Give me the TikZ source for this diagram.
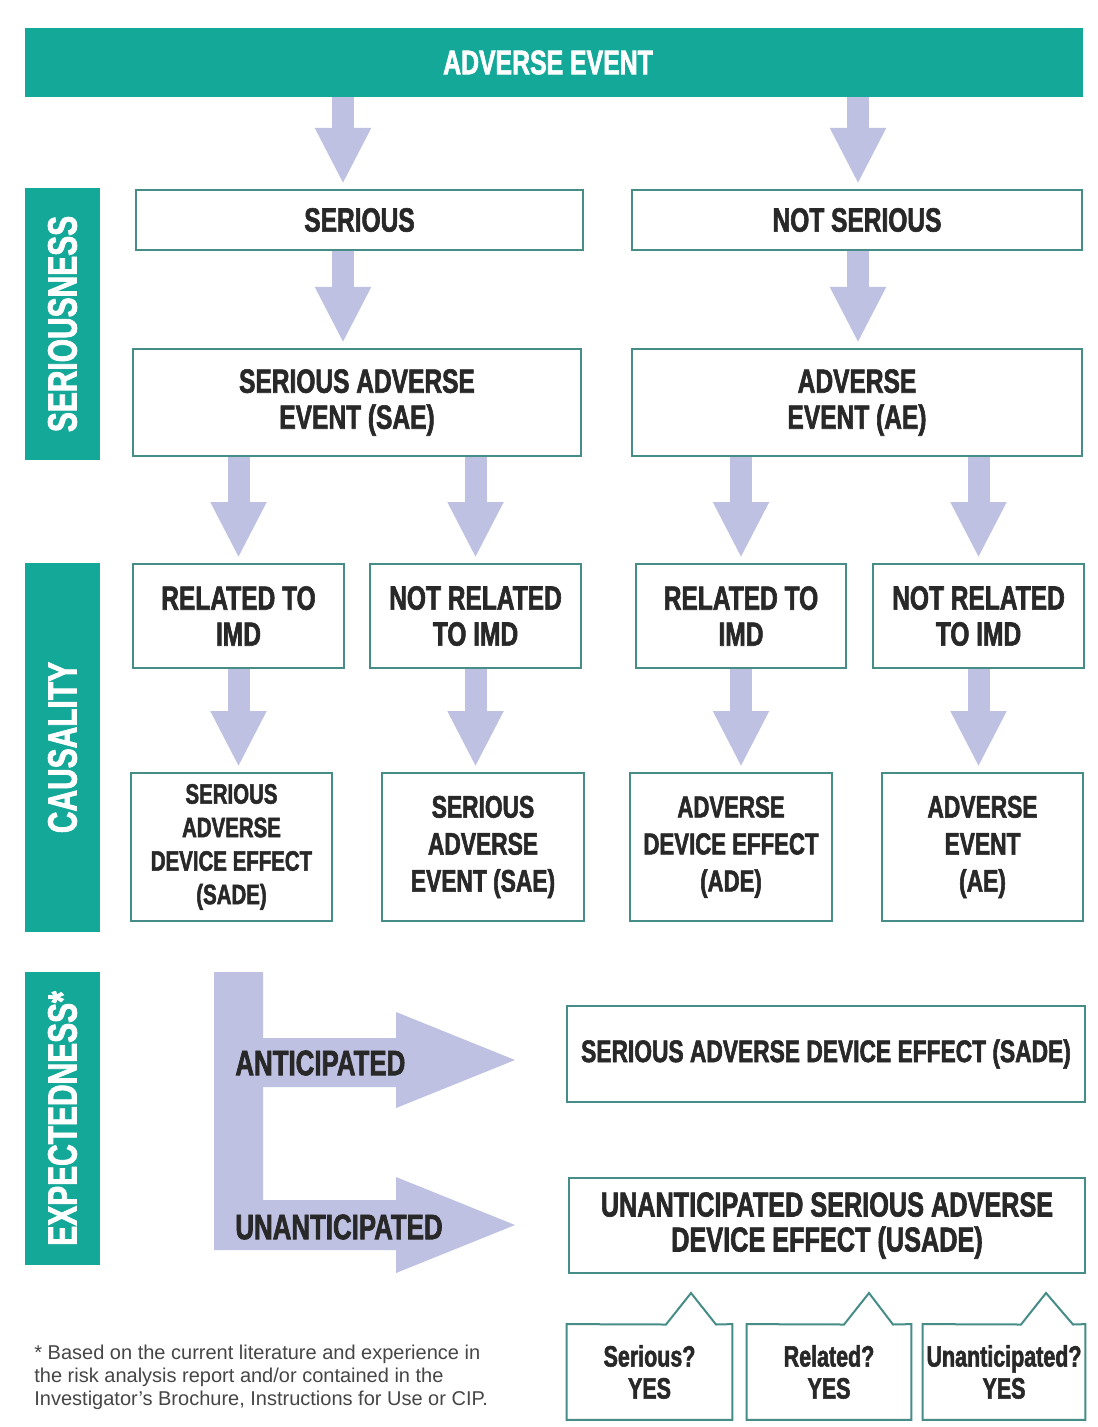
\documentclass[tikz,border=0pt]{standalone}
\usepackage{fontspec}
\setmainfont{Liberation Sans}
\newfontfamily\cond[FakeStretch=0.73,FakeBold=1.8]{Liberation Sans Bold}
\usetikzlibrary{arrows.meta}
\definecolor{tealc}{RGB}{20,168,153}
\definecolor{arrc}{RGB}{190,193,225}
\definecolor{boxc}{RGB}{70,140,135}
\definecolor{txtc}{RGB}{40,40,40}
\definecolor{notec}{RGB}{70,70,70}
\tikzset{
  box/.style={draw=boxc, line width=1pt, fill=white, inner sep=0pt, align=center, text=txtc,
    font=\cond\fontsize{16.8}{18}\selectfont},
  side/.style={fill=tealc, inner sep=0pt, text=white, font=\cond\fontsize{20.5}{22}\selectfont},
  fat/.style={draw=arrc, line width=11pt, -{Triangle[width=26pt,length=28pt]}, shorten >=2.5pt},
  callout/.style={inner sep=0pt, align=center, text=txtc, font=\cond\fontsize{14.7}{16}\selectfont},
  outline/.style={draw=boxc, line width=1pt, line join=miter}
}
\begin{document}
\begin{tikzpicture}[x=0.5pt,y=-0.5pt]
\useasboundingbox (0,0) rectangle (1097,1427);
\fill[white] (0,0) rectangle (1097,1427);

% banner
\node[fill=tealc, inner sep=0pt, minimum width=529pt, minimum height=34.5pt] (top) at (554,62.5) {};
\node[inner sep=0pt, text=white, font=\cond\fontsize{17}{18}\selectfont] (toplbl) at (548,62.5) {ADVERSE EVENT};

% side labels
\node[side, rotate=90, minimum width=136pt, minimum height=37.5pt] (sl1) at (62.5,324) {SERIOUSNESS};
\node[side, rotate=90, minimum width=184.5pt, minimum height=37.5pt] (sl2) at (62.5,747.5) {CAUSALITY};
\node[side, rotate=90, minimum width=146.5pt, minimum height=37.5pt] (sl3) at (62.5,1118.5) {EXPECTEDNESS*};

% row 1
\node[box, minimum width=223.5pt, minimum height=30pt] (ser) at (359.5,220) {SERIOUS};
\node[box, minimum width=225pt, minimum height=30pt] (nser) at (857,220) {NOT SERIOUS};

% row 2
\node[box, minimum width=224pt, minimum height=53.5pt] (sae) at (357,402.5) {SERIOUS ADVERSE\\EVENT (SAE)};
\node[box, minimum width=225pt, minimum height=53.5pt] (ae) at (857,402.5) {ADVERSE\\EVENT (AE)};

% row 3
\node[box, minimum width=105.5pt, minimum height=52pt] (r1) at (238.5,616) {RELATED TO\\IMD};
\node[box, minimum width=105.5pt, minimum height=52pt] (r2) at (475.5,616) {NOT RELATED\\TO IMD};
\node[box, minimum width=105pt, minimum height=52pt] (r3) at (741,616) {RELATED TO\\IMD};
\node[box, minimum width=105.5pt, minimum height=52pt] (r4) at (978.5,616) {NOT RELATED\\TO IMD};

% row 4
\node[box, minimum width=100.5pt, minimum height=74pt, font=\cond\fontsize{14}{16.75}\selectfont] (s1) at (231.5,847) {SERIOUS\\ADVERSE\\DEVICE EFFECT\\(SADE)};
\node[box, minimum width=101pt, minimum height=74pt, font=\cond\fontsize{15.6}{18.5}\selectfont] (s2) at (483,847) {SERIOUS\\ADVERSE\\EVENT (SAE)};
\node[box, minimum width=101pt, minimum height=74pt, font=\cond\fontsize{15.2}{18.5}\selectfont] (s3) at (731,847) {ADVERSE\\DEVICE EFFECT\\(ADE)};
\node[box, minimum width=100.5pt, minimum height=74pt, font=\cond\fontsize{15.6}{18.5}\selectfont] (s4) at (982.5,847) {ADVERSE\\EVENT\\(AE)};

% expectedness boxes
\node[box, minimum width=259pt, minimum height=48pt, font=\cond\fontsize{15.6}{18}\selectfont] (sade) at (826,1054) {SERIOUS ADVERSE DEVICE EFFECT (SADE)};
\node[box, minimum width=258pt, minimum height=47.5pt, font=\cond\fontsize{17.3}{17.5}\selectfont] (usade) at (827,1225.5) {UNANTICIPATED SERIOUS ADVERSE\\DEVICE EFFECT (USADE)};

% arrow x positions
\coordinate (xl) at (343,0);
\coordinate (xr) at (858,0);

% vertical fat arrows
\draw[fat] (top.south -| xl) -- (ser.north -| xl);
\draw[fat] (top.south -| xr) -- (nser.north -| xr);
\draw[fat] (ser.south -| xl) -- (sae.north -| xl);
\draw[fat] (nser.south -| xr) -- (ae.north -| xr);
\draw[fat] (sae.south -| r1) -- (r1.north);
\draw[fat] (sae.south -| r2) -- (r2.north);
\draw[fat] (ae.south -| r3) -- (r3.north);
\draw[fat] (ae.south -| r4) -- (r4.north);
\draw[fat] (r1.south) -- (r1.south |- s1.north);
\draw[fat] (r2.south) -- (r2.south |- s2.north);
\draw[fat] (r3.south) -- (r3.south |- s3.north);
\draw[fat] (r4.south) -- (r4.south |- s4.north);

% L-shaped branching arrow
\fill[arrc] (214,972) -- (263,972) -- (263,1038) -- (396,1038) -- (396,1012) -- (515,1060)
  -- (396,1108) -- (396,1087) -- (263,1087) -- (263,1200) -- (396,1200) -- (396,1177)
  -- (515,1225) -- (396,1273) -- (396,1250) -- (214,1250) -- cycle;
\node[anchor=west, inner sep=0pt, text=txtc, font=\cond\fontsize{17.7}{18}\selectfont] (ant) at (235,1063) {ANTICIPATED};
\node[anchor=west, inner sep=0pt, text=txtc, font=\cond\fontsize{17.7}{18}\selectfont] (unant) at (235,1227) {UNANTICIPATED};

% callouts
\node[callout, minimum width=82.5pt, minimum height=47.5pt] (q1) at (649.5,1372) {Serious?\\YES};
\node[callout, minimum width=82pt, minimum height=47.5pt] (q2) at (829,1372) {Related?\\YES};
\node[callout, minimum width=81pt, minimum height=47.5pt] (q3) at (1004,1372) {Unanticipated?\\YES};
\draw[outline] (q1.north west) -- (666,1324.5) -- (691,1293) -- (716,1324.5) -- (q1.north east) -- (q1.south east) -- (q1.south west) -- cycle;
\draw[outline] (q2.north west) -- (844,1324.5) -- (869,1293) -- (893,1324.5) -- (q2.north east) -- (q2.south east) -- (q2.south west) -- cycle;
\draw[outline] (q3.north west) -- (1021,1324.5) -- (1046,1293) -- (1073,1324.5) -- (q3.north east) -- (q3.south east) -- (q3.south west) -- cycle;

% footnote
\node[anchor=north west, inner sep=0pt, align=left, text=notec, font=\fontsize{10}{11.5}\selectfont] (note) at (34,1345)
  {* Based on the current literature and experience in\\the risk analysis report and/or contained in the\\Investigator's Brochure, Instructions for Use or CIP.};
\end{tikzpicture}
\end{document}
